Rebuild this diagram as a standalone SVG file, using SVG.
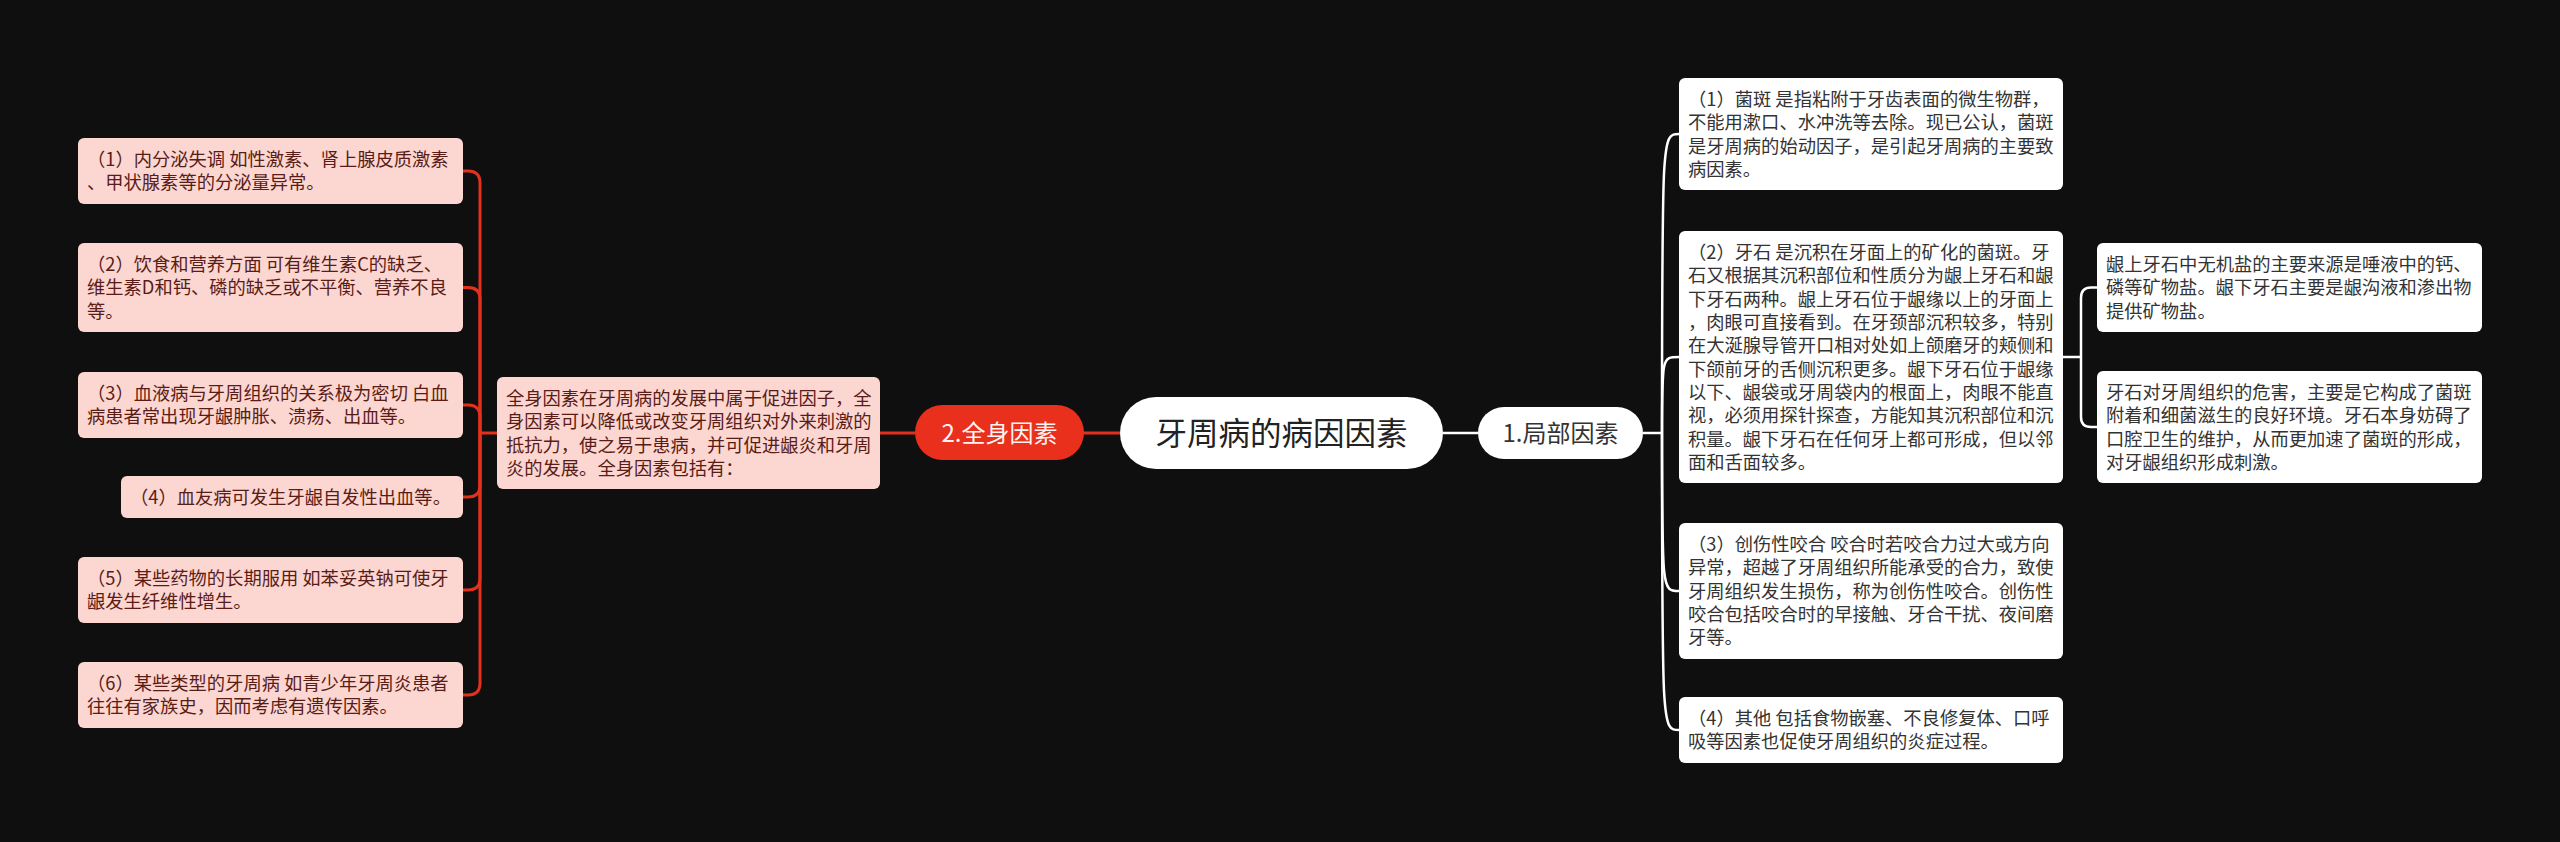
<svg xmlns="http://www.w3.org/2000/svg" width="2560" height="842" viewBox="0 0 2560 842">
<style>
text{font-family:"Noto Sans CJK SC","Noto Sans",sans-serif;}
.w{fill:#ffffff;}
.p{fill:#fcd6d1;}
.tw{font-size:18.3px;fill:#333333;}
.tp{font-size:18.3px;fill:#5a1c16;}
.lw{fill:none;stroke:#ffffff;stroke-width:2.5;}
.lr{fill:none;stroke:#e3311d;stroke-width:3;}
</style>
<rect x="0" y="0" width="2560" height="842" fill="#0f0f0f"/>
<g id="connectors">
<path class="lr" d="M1082 433 H1120"/>
<path class="lr" d="M915 433 H880"/>
<path class="lr" d="M497 433 H480"/>
<path class="lr" d="M480 433 V183 Q480 171 468 171 H463"/>
<path class="lr" d="M480 433 V299 Q480 287.5 468 287.5 H463"/>
<path class="lr" d="M480 433 V417 Q480 405 468 405 H463"/>
<path class="lr" d="M480 433 V485 Q480 497 468 497 H463"/>
<path class="lr" d="M480 433 V578 Q480 590 468 590 H463"/>
<path class="lr" d="M480 433 V683 Q480 695 468 695 H463"/>
<path class="lw" d="M1443 433 H1478"/>
<path class="lw" d="M1643 433 H1662"/>
<path class="lw" d="M1662 433 C1662 134 1662 134 1679 134"/>
<path class="lw" d="M1662 433 C1662 357 1662 357 1679 357"/>
<path class="lw" d="M1662 433 C1662 591 1662 591 1679 591"/>
<path class="lw" d="M1662 433 C1662 730 1662 730 1679 730"/>
<path class="lw" d="M2063 357 H2081"/>
<path class="lw" d="M2081 357 V298 Q2081 287.5 2091 287.5 H2097"/>
<path class="lw" d="M2081 357 V417 Q2081 427 2091 427 H2097"/>
</g>
<g id="root">
<rect class="w" x="1120" y="397" width="323" height="72" rx="36"/>
<text x="1281.5" y="444.5" font-size="31.5" fill="#222222" text-anchor="middle">牙周病的病因因素</text>
</g>
<g id="local">
<rect class="w" x="1478" y="407" width="165" height="52" rx="26"/>
<text x="1560.5" y="441.5" font-size="24" fill="#333333" text-anchor="middle">1.局部因素</text>
</g>
<g id="general">
<rect x="915" y="405" width="169" height="55" rx="27.5" fill="#e8301c"/>
<text x="999.5" y="441.5" font-size="24" fill="#fff4f2" text-anchor="middle">2.全身因素</text>
</g>
<g id="r1">
<rect class="w" x="1679" y="78" width="384" height="112" rx="6"/>
<text class="tw"><tspan x="1688" y="106">（1）菌斑 是指粘附于牙齿表面的微生物群，</tspan><tspan x="1688" y="129.3">不能用漱口、水冲洗等去除。现已公认，菌斑</tspan><tspan x="1688" y="152.7">是牙周病的始动因子，是引起牙周病的主要致</tspan><tspan x="1688" y="176">病因素。</tspan></text>
</g>
<g id="r2">
<rect class="w" x="1679" y="231" width="384" height="252" rx="6"/>
<text class="tw"><tspan x="1688" y="259">（2）牙石 是沉积在牙面上的矿化的菌斑。牙</tspan><tspan x="1688" y="282.3">石又根据其沉积部位和性质分为龈上牙石和龈</tspan><tspan x="1688" y="305.7">下牙石两种。龈上牙石位于龈缘以上的牙面上</tspan><tspan x="1688" y="329">，肉眼可直接看到。在牙颈部沉积较多，特别</tspan><tspan x="1688" y="352.3">在大涎腺导管开口相对处如上颌磨牙的颊侧和</tspan><tspan x="1688" y="375.7">下颌前牙的舌侧沉积更多。龈下牙石位于龈缘</tspan><tspan x="1688" y="399">以下、龈袋或牙周袋内的根面上，肉眼不能直</tspan><tspan x="1688" y="422.3">视，必须用探针探查，方能知其沉积部位和沉</tspan><tspan x="1688" y="445.7">积量。龈下牙石在任何牙上都可形成，但以邻</tspan><tspan x="1688" y="469">面和舌面较多。</tspan></text>
</g>
<g id="r3">
<rect class="w" x="1679" y="523" width="384" height="136" rx="6"/>
<text class="tw"><tspan x="1688" y="551">（3）创伤性咬合 咬合时若咬合力过大或方向</tspan><tspan x="1688" y="574.3">异常，超越了牙周组织所能承受的合力，致使</tspan><tspan x="1688" y="597.7">牙周组织发生损伤，称为创伤性咬合。创伤性</tspan><tspan x="1688" y="621">咬合包括咬合时的早接触、牙合干扰、夜间磨</tspan><tspan x="1688" y="644.3">牙等。</tspan></text>
</g>
<g id="r4">
<rect class="w" x="1679" y="697" width="384" height="66" rx="6"/>
<text class="tw"><tspan x="1688" y="725">（4）其他 包括食物嵌塞、不良修复体、口呼</tspan><tspan x="1688" y="748.3">吸等因素也促使牙周组织的炎症过程。</tspan></text>
</g>
<g id="r2a">
<rect class="w" x="2097" y="243" width="385" height="89" rx="6"/>
<text class="tw"><tspan x="2106" y="271">龈上牙石中无机盐的主要来源是唾液中的钙、</tspan><tspan x="2106" y="294.3">磷等矿物盐。龈下牙石主要是龈沟液和渗出物</tspan><tspan x="2106" y="317.7">提供矿物盐。</tspan></text>
</g>
<g id="r2b">
<rect class="w" x="2097" y="371" width="385" height="112" rx="6"/>
<text class="tw"><tspan x="2106" y="399">牙石对牙周组织的危害，主要是它构成了菌斑</tspan><tspan x="2106" y="422.3">附着和细菌滋生的良好环境。牙石本身妨碍了</tspan><tspan x="2106" y="445.7">口腔卫生的维护，从而更加速了菌斑的形成，</tspan><tspan x="2106" y="469">对牙龈组织形成刺激。</tspan></text>
</g>
<g id="gdesc">
<rect class="p" x="497" y="377" width="383" height="112" rx="6"/>
<text class="tp"><tspan x="506" y="405">全身因素在牙周病的发展中属于促进因子，全</tspan><tspan x="506" y="428.3">身因素可以降低或改变牙周组织对外来刺激的</tspan><tspan x="506" y="451.7">抵抗力，使之易于患病，并可促进龈炎和牙周</tspan><tspan x="506" y="475">炎的发展。全身因素包括有：</tspan></text>
</g>
<g id="l1">
<rect class="p" x="78" y="138" width="385" height="66" rx="6"/>
<text class="tp"><tspan x="87" y="166">（1）内分泌失调 如性激素、肾上腺皮质激素</tspan><tspan x="87" y="189.3">、甲状腺素等的分泌量异常。</tspan></text>
</g>
<g id="l2">
<rect class="p" x="78" y="243" width="385" height="89" rx="6"/>
<text class="tp"><tspan x="87" y="271">（2）饮食和营养方面 可有维生素C的缺乏、</tspan><tspan x="87" y="294.3">维生素D和钙、磷的缺乏或不平衡、营养不良</tspan><tspan x="87" y="317.7">等。</tspan></text>
</g>
<g id="l3">
<rect class="p" x="78" y="372" width="385" height="66" rx="6"/>
<text class="tp"><tspan x="87" y="400">（3）血液病与牙周组织的关系极为密切 白血</tspan><tspan x="87" y="423.3">病患者常出现牙龈肿胀、溃疡、出血等。</tspan></text>
</g>
<g id="l4">
<rect class="p" x="121" y="476" width="342" height="42" rx="6"/>
<text class="tp"><tspan x="130" y="504">（4）血友病可发生牙龈自发性出血等。</tspan></text>
</g>
<g id="l5">
<rect class="p" x="78" y="557" width="385" height="66" rx="6"/>
<text class="tp"><tspan x="87" y="585">（5）某些药物的长期服用 如苯妥英钠可使牙</tspan><tspan x="87" y="608.3">龈发生纤维性增生。</tspan></text>
</g>
<g id="l6">
<rect class="p" x="78" y="662" width="385" height="66" rx="6"/>
<text class="tp"><tspan x="87" y="690">（6）某些类型的牙周病 如青少年牙周炎患者</tspan><tspan x="87" y="713.3">往往有家族史，因而考虑有遗传因素。</tspan></text>
</g>
</svg>
